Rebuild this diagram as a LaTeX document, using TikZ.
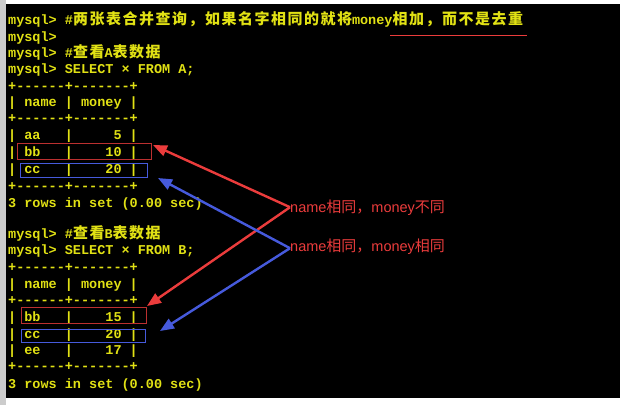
\documentclass[tikz,border=0pt]{standalone}
\usepackage{fontspec}
\usetikzlibrary{arrows.meta}
\setmonofont{Liberation Mono}
\newfontfamily\cjk[LetterSpace=10]{Noto Sans CJK SC}
\newfontfamily\cjkl{Noto Sans CJK SC}
\newfontfamily\lsans{Liberation Sans}
\definecolor{term}{RGB}{225,225,20}
\definecolor{ared}{RGB}{235,60,60}
\definecolor{ablue}{RGB}{70,90,220}
\newcommand{\C}[1]{{\cjk\fontsize{15}{15}\selectfont #1}}
\newcommand{\CL}[1]{{\cjkl\fontsize{15}{15}\selectfont #1}}
\begin{document}
\begin{tikzpicture}[x=1pt,y=-1pt,
  ln/.style={anchor=base west,inner sep=0pt,text=term,font=\ttfamily\bfseries\fontsize{13.5}{14}\selectfont},
  lab/.style={anchor=base west,inner sep=0pt,text=ared,font=\lsans\fontsize{14.5}{14}\selectfont},
  rbox/.style={draw=ared!80!black,line width=0.8pt},
  bbox/.style={draw=ablue,line width=0.8pt},
  rarr/.style={draw=ared,line width=2.4pt,-{Triangle[length=14pt,width=11pt]}},
  barr/.style={draw=ablue,line width=2.4pt,-{Triangle[length=14pt,width=11pt]}}]
\useasboundingbox (0,0) rectangle (626,405);
\fill[white] (0,0) rectangle (626,405);
\fill[black!20] (0,0) rectangle (6,405);
\fill[black] (6,4) rectangle (620,398);
\node[ln] (l1) at (8,24) {mysql> \#\C{两张表合并查询，如果名字相同的就将}money\C{相加，而不是去重}};
\draw[ared,line width=1pt] (390,35) -- (527,35);
\node[ln] (l2) at (8,41) {mysql>};
\node[ln] (l3) at (8,57) {mysql> \#\C{查看}A\C{表数据}};
\node[ln] (l4) at (8,73) {mysql> SELECT × FROM A;};
\node[ln] (l5) at (8,90) {+------+-------+};
\node[ln] (l6) at (8,106) {| name | money |};
\node[ln] (l7) at (8,122) {+------+-------+};
\node[ln] (l8) at (8,139) {| aa~~~|~~~~~5 |};
\node[ln] (l9) at (8,156) {| bb~~~|~~~~10 |};
\node[ln] (l10) at (8,173) {| cc~~~|~~~~20 |};
\node[ln] (l11) at (8,190) {+------+-------+};
\node[ln] (l12) at (8,207) {3 rows in set (0.00 sec)};
\node[ln] (l13) at (8,238) {mysql> \#\C{查看}B\C{表数据}};
\node[ln] (l14) at (8,254) {mysql> SELECT × FROM B;};
\node[ln] (l15) at (8,271) {+------+-------+};
\node[ln] (l16) at (8,288) {| name | money |};
\node[ln] (l17) at (8,304) {+------+-------+};
\node[ln] (l18) at (8,321) {| bb~~~|~~~~15 |};
\node[ln] (l19) at (8,338) {| cc~~~|~~~~20 |};
\node[ln] (l20) at (8,354) {| ee~~~|~~~~17 |};
\node[ln] (l21) at (8,370) {+------+-------+};
\node[ln] (l22) at (8,388) {3 rows in set (0.00 sec)};
\draw[rbox] (17,143) rectangle (151,159);
\draw[bbox] (20,163) rectangle (147,177);
\draw[rbox] (21,307) rectangle (146,323);
\draw[bbox] (21,329) rectangle (145,342);
\node[lab] (t1) at (290,212) {name\CL{相同，}money\CL{不同}};
\node[lab] (t2) at (290,251) {name\CL{相同，}money\CL{相同}};
\coordinate (ra) at (153,145);
\coordinate (rb) at (147,306);
\coordinate (ba) at (158,178);
\coordinate (bb) at (160,331);
\draw[rarr] (t1.west) -- (ra);
\draw[rarr] (t1.west) -- (rb);
\draw[barr] ([yshift=-2pt]t2.west) -- (ba);
\draw[barr] ([yshift=-2pt]t2.west) -- (bb);
\end{tikzpicture}
\end{document}
